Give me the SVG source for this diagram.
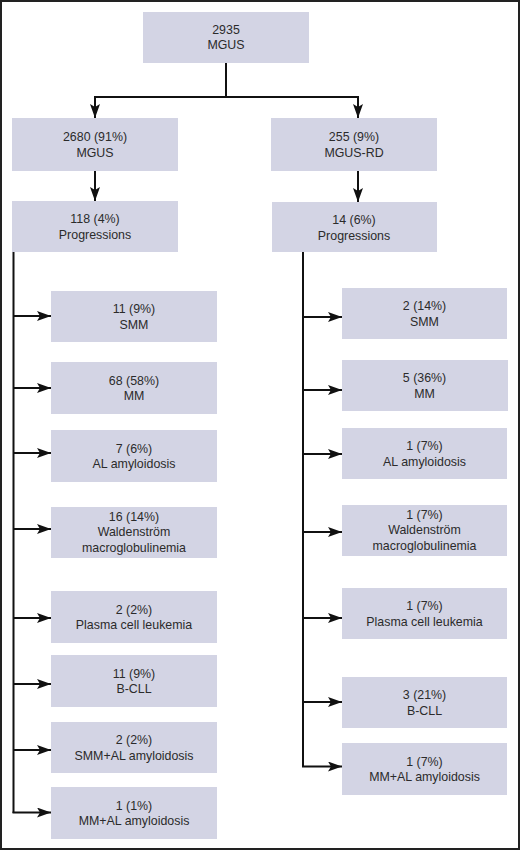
<svg xmlns="http://www.w3.org/2000/svg" width="520" height="851" viewBox="0 0 520 851">
<style>
.box{fill:#d3d4e4}
.t{font-family:"Liberation Sans",Arial,sans-serif;font-size:12.4px;fill:#2b2b2b;text-anchor:middle}
.c{fill:none;stroke:#111;stroke-width:2}
</style>
<defs>
<marker id="ah" markerUnits="userSpaceOnUse" markerWidth="16" markerHeight="12" refX="14" refY="5" orient="auto">
<path d="M0,0 L14,5 L0,10 L3,5 Z" fill="#111"/>
</marker>
</defs>
<rect x="1" y="1" width="518" height="848" fill="#fff" stroke="#222" stroke-width="2"/>
<g id="connectors">
<path class="c" d="M226,63 V97"/>
<path class="c" d="M95,97 H358"/>
<path class="c" d="M95,96 V118" marker-end="url(#ah)"/>
<path class="c" d="M358,96 V118" marker-end="url(#ah)"/>
<path class="c" d="M95,171 V201" marker-end="url(#ah)"/>
<path class="c" d="M358,171 V202" marker-end="url(#ah)"/>
<path class="c" d="M13.5,252 V813"/>
<path class="c" d="M13,316 H51" marker-end="url(#ah)"/>
<path class="c" d="M13,388 H51" marker-end="url(#ah)"/>
<path class="c" d="M13,453 H51" marker-end="url(#ah)"/>
<path class="c" d="M13,529 H51" marker-end="url(#ah)"/>
<path class="c" d="M13,618 H51" marker-end="url(#ah)"/>
<path class="c" d="M13,684 H51" marker-end="url(#ah)"/>
<path class="c" d="M13,750 H51" marker-end="url(#ah)"/>
<path class="c" d="M12.5,812.5 H51" marker-end="url(#ah)"/>
<path class="c" d="M303,252 V767"/>
<path class="c" d="M303,317 H342" marker-end="url(#ah)"/>
<path class="c" d="M303,390 H342" marker-end="url(#ah)"/>
<path class="c" d="M303,454 H342" marker-end="url(#ah)"/>
<path class="c" d="M303,532 H342" marker-end="url(#ah)"/>
<path class="c" d="M303,618 H342" marker-end="url(#ah)"/>
<path class="c" d="M303,702 H342" marker-end="url(#ah)"/>
<path class="c" d="M302,766.5 H342" marker-end="url(#ah)"/>
</g>
<g id="root"><rect class="box" x="143" y="12" width="166" height="51"/><text class="t" x="226" y="33.5">2935</text><text class="t" x="226" y="49">MGUS</text></g>
<g id="mgus"><rect class="box" x="12" y="118" width="166" height="53"/><text class="t" x="95" y="141">2680 (91%)</text><text class="t" x="95" y="156.5">MGUS</text></g>
<g id="mgusrd"><rect class="box" x="271" y="118" width="166" height="53"/><text class="t" x="354" y="141">255 (9%)</text><text class="t" x="354" y="156.5">MGUS-RD</text></g>
<g id="prog-l"><rect class="box" x="12" y="201" width="166" height="51"/><text class="t" x="95" y="223">118 (4%)</text><text class="t" x="95" y="238.5">Progressions</text></g>
<g id="prog-r"><rect class="box" x="272" y="202" width="165" height="50"/><text class="t" x="354" y="224">14 (6%)</text><text class="t" x="354" y="239.5">Progressions</text></g>
<g id="l-smm"><rect class="box" x="51" y="291" width="166" height="51"/><text class="t" x="134" y="313">11 (9%)</text><text class="t" x="134" y="328.5">SMM</text></g>
<g id="l-mm"><rect class="box" x="51" y="362" width="166" height="52"/><text class="t" x="134" y="384.5">68 (58%)</text><text class="t" x="134" y="400">MM</text></g>
<g id="l-al"><rect class="box" x="51" y="430" width="166" height="52"/><text class="t" x="134" y="452.5">7 (6%)</text><text class="t" x="134" y="468">AL amyloidosis</text></g>
<g id="l-wm"><rect class="box" x="51" y="507" width="166" height="51"/><text class="t" x="134" y="520.5">16 (14%)</text><text class="t" x="134" y="536">Waldenström</text><text class="t" x="134" y="551.5">macroglobulinemia</text></g>
<g id="l-pcl"><rect class="box" x="51" y="591" width="166" height="52"/><text class="t" x="134" y="613.5">2 (2%)</text><text class="t" x="134" y="629">Plasma cell leukemia</text></g>
<g id="l-bcll"><rect class="box" x="51" y="655" width="166" height="52"/><text class="t" x="134" y="677.5">11 (9%)</text><text class="t" x="134" y="693">B-CLL</text></g>
<g id="l-smmal"><rect class="box" x="51" y="722" width="166" height="51"/><text class="t" x="134" y="744">2 (2%)</text><text class="t" x="134" y="759.5">SMM+AL amyloidosis</text></g>
<g id="l-mmal"><rect class="box" x="51" y="787" width="166" height="52"/><text class="t" x="134" y="809.5">1 (1%)</text><text class="t" x="134" y="825">MM+AL amyloidosis</text></g>
<g id="r-smm"><rect class="box" x="342" y="288" width="165" height="51"/><text class="t" x="424.5" y="310">2 (14%)</text><text class="t" x="424.5" y="325.5">SMM</text></g>
<g id="r-mm"><rect class="box" x="342" y="360" width="166" height="51"/><text class="t" x="424.5" y="382">5 (36%)</text><text class="t" x="424.5" y="397.5">MM</text></g>
<g id="r-al"><rect class="box" x="342" y="428" width="165" height="51"/><text class="t" x="424.5" y="450">1 (7%)</text><text class="t" x="424.5" y="465.5">AL amyloidosis</text></g>
<g id="r-wm"><rect class="box" x="342" y="505" width="165" height="51"/><text class="t" x="424.5" y="518.5">1 (7%)</text><text class="t" x="424.5" y="534">Waldenström</text><text class="t" x="424.5" y="549.5">macroglobulinemia</text></g>
<g id="r-pcl"><rect class="box" x="342" y="588" width="165" height="51"/><text class="t" x="424.5" y="610">1 (7%)</text><text class="t" x="424.5" y="625.5">Plasma cell leukemia</text></g>
<g id="r-bcll"><rect class="box" x="342" y="677" width="165" height="51"/><text class="t" x="424.5" y="699">3 (21%)</text><text class="t" x="424.5" y="714.5">B-CLL</text></g>
<g id="r-mmal"><rect class="box" x="342" y="743" width="165" height="52"/><text class="t" x="424.5" y="765.5">1 (7%)</text><text class="t" x="424.5" y="781">MM+AL amyloidosis</text></g>
</svg>
